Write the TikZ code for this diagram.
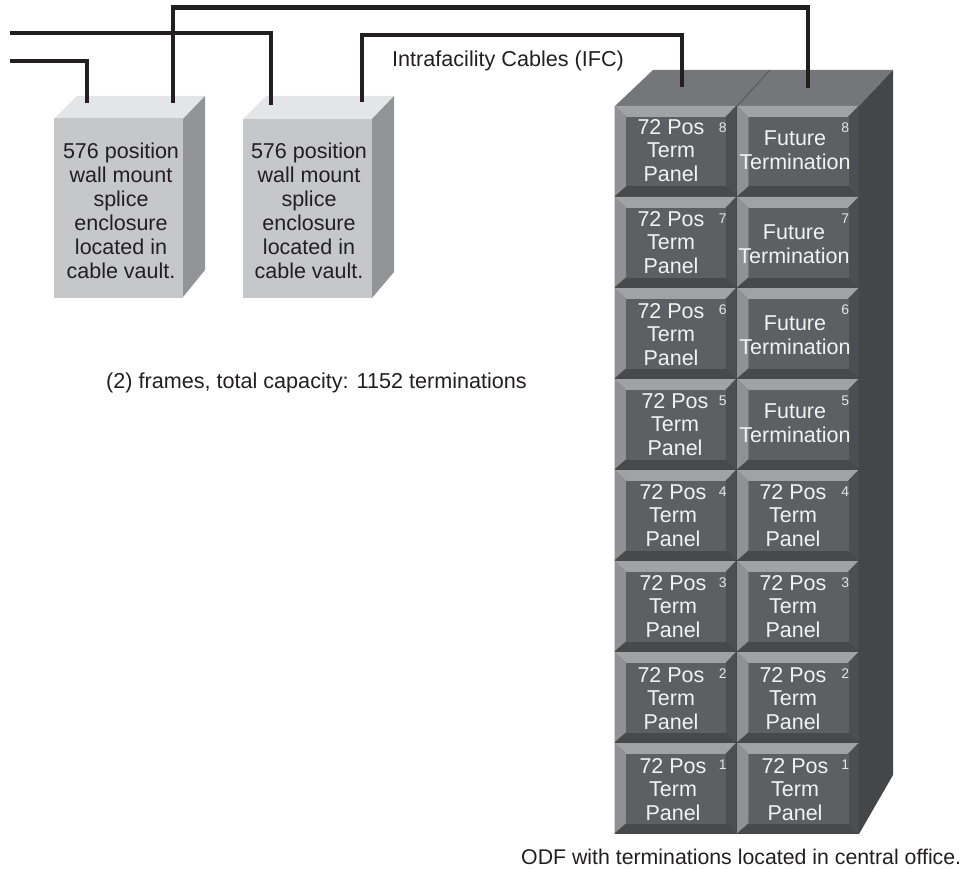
\documentclass[tikz,border=0pt]{standalone}
\usepackage{fontspec}
\setmainfont{Liberation Sans}
\usepackage{tikz}
\usetikzlibrary{positioning,calc}

\definecolor{encfront}{HTML}{C6C7C9}
\definecolor{enctop}{HTML}{E4E5E7}
\definecolor{encside}{HTML}{939497}
\definecolor{odftop}{HTML}{75767A}
\definecolor{odfside}{HTML}{454648}
\definecolor{bevtop}{HTML}{A0A2A5}
\definecolor{bevleft}{HTML}{8F9194}
\definecolor{bevright}{HTML}{4D4E51}
\definecolor{bevbottom}{HTML}{48494B}
\definecolor{panelgrey}{HTML}{5E5F62}
\definecolor{inkgrey}{HTML}{231F20}

% panel: name, left, top, text x, text y, text, number
\newcommand{\termpanel}[7]{
  \fill[bevtop] (#2,#3) -- ++(121.5,0) -- ++(-10.5,11) -- ++(-99.5,0) -- cycle;
  \fill[bevleft] (#2,#3) -- ++(11.5,11) -- ++(0,69.5) -- ++(-11.5,10) -- cycle;
  \fill[bevright] (#2+121.5,#3) -- ++(-10.5,11) -- ++(0,69.5) -- ++(10.5,10) -- cycle;
  \fill[bevbottom] (#2,#3+90.5) -- ++(11.5,-10) -- ++(99.5,0) -- ++(10.5,10) -- cycle;
  \node[panelface] (#1) at (#2+61.5,#3+45.75) {};
  \node[paneltext] (#1text) at (#4,#5) {#6};
  \node[panelnum] (#1num) at ($(#1.north east)+(-3.5,10.5)$) {#7};
}

\begin{document}
\begin{tikzpicture}[
    x=1pt, y=-1pt,
    enclosure/.style={rectangle, fill=encfront, minimum width=129pt, minimum height=179pt, inner sep=0pt},
    enctext/.style={align=center, inner sep=0pt, text=inkgrey, font=\fontsize{21.5}{24}\selectfont},
    caption/.style={inner sep=0pt, text=inkgrey, font=\fontsize{21.6}{24}\selectfont},
    panelface/.style={rectangle, fill=panelgrey, minimum width=100pt, minimum height=69.5pt, inner sep=0pt},
    paneltext/.style={align=center, inner sep=0pt, text=white!95!black, font=\fontsize{21.5}{23.5}\selectfont},
    panelnum/.style={inner sep=0pt, text=white!90!black, font=\fontsize{14}{14}\selectfont},
    cable/.style={line width=4.8pt, draw=inkgrey, miter limit=10}
]
\useasboundingbox (0,0) rectangle (969,869);

% Enclosures
\fill[enctop] (54,119) -- (77,96) -- (205,96) -- (183,119) -- cycle;
\fill[encside] (183,119) -- (205,96) -- (205,270) -- (183,297) -- cycle;
\node[enclosure] (encA) at (118.5,208) {};
\node[enctext] (encAtext) at (121,211) {576 position\\wall mount\\splice\\enclosure\\located in\\cable vault.};

\fill[enctop] (243,119) -- (266,96) -- (394,96) -- (372,119) -- cycle;
\fill[encside] (372,119) -- (394,96) -- (394,272) -- (372,298) -- cycle;
\node[enclosure] (encB) at (307.5,208.5) {};
\node[enctext] (encBtext) at (309,211) {576 position\\wall mount\\splice\\enclosure\\located in\\cable vault.};

% ODF body
\fill[odftop] (615,106) -- (653,70) -- (893,70) -- (859,106) -- cycle;
\fill[odfside] (859,106) -- (893,70) -- (893,775) -- (859,834) -- cycle;
\fill[odfside] (614.5,106) rectangle (859,834);
\draw[line width=0.5pt, draw=odfside] (737,106) -- (770,70);

% Left column
\termpanel{pa8}{614.5}{106}{671}{150.5}{72 Pos\\Term\\Panel}{8}
\termpanel{pa7}{614.5}{197}{671}{242.5}{72 Pos\\Term\\Panel}{7}
\termpanel{pa6}{614.5}{288}{671}{334.5}{72 Pos\\Term\\Panel}{6}
\termpanel{pa5}{614.5}{379}{675}{424.5}{72 Pos\\Term\\Panel}{5}
\termpanel{pa4}{614.5}{470}{673}{515.5}{72 Pos\\Term\\Panel}{4}
\termpanel{pa3}{614.5}{561}{673}{606.5}{72 Pos\\Term\\Panel}{3}
\termpanel{pa2}{614.5}{652}{671}{698.5}{72 Pos\\Term\\Panel}{2}
\termpanel{pa1}{614.5}{743}{673}{789.5}{72 Pos\\Term\\Panel}{1}

% Right column
\termpanel{pb8}{737}{106}{795}{150}{Future\\Termination}{8}
\termpanel{pb7}{737}{197}{794}{244}{Future\\Termination}{7}
\termpanel{pb6}{737}{288}{795}{335}{Future\\Termination}{6}
\termpanel{pb5}{737}{379}{795}{423}{Future\\Termination}{5}
\termpanel{pb4}{737}{470}{793}{515.5}{72 Pos\\Term\\Panel}{4}
\termpanel{pb3}{737}{561}{793}{606.5}{72 Pos\\Term\\Panel}{3}
\termpanel{pb2}{737}{652}{793}{698.5}{72 Pos\\Term\\Panel}{2}
\termpanel{pb1}{737}{743}{795}{789.5}{72 Pos\\Term\\Panel}{1}

% Cable ends
\coordinate (freeA) at (10,61);
\coordinate (freeB) at (10,33);
\coordinate (dropA) at (87,103);
\coordinate (dropB) at (173,103);
\coordinate (dropC) at (271,105);
\coordinate (dropD) at (362,102);
\coordinate (termA) at (682,87);
\coordinate (termB) at (808,88);

% Cables
\draw[cable] (freeA) -| (dropA);
\draw[cable] (freeB) -| (dropC);
\draw[cable] (dropB) |- (termB |- 0,7.5) -- (termB);
\draw[cable] (dropD) |- (termA |- 0,35) -- (termA);

% Labels
\node[caption, anchor=west] (ifc) at (392,61) {Intrafacility Cables (IFC)};
\node[caption, anchor=west] (frames) at (106,383) {(2) frames, total capacity: 1152 terminations};
\node[caption, anchor=west, font=\fontsize{21.3}{24}\selectfont] (odf) at (521,857) {ODF with terminations located in central office.};

\end{tikzpicture}
\end{document}
